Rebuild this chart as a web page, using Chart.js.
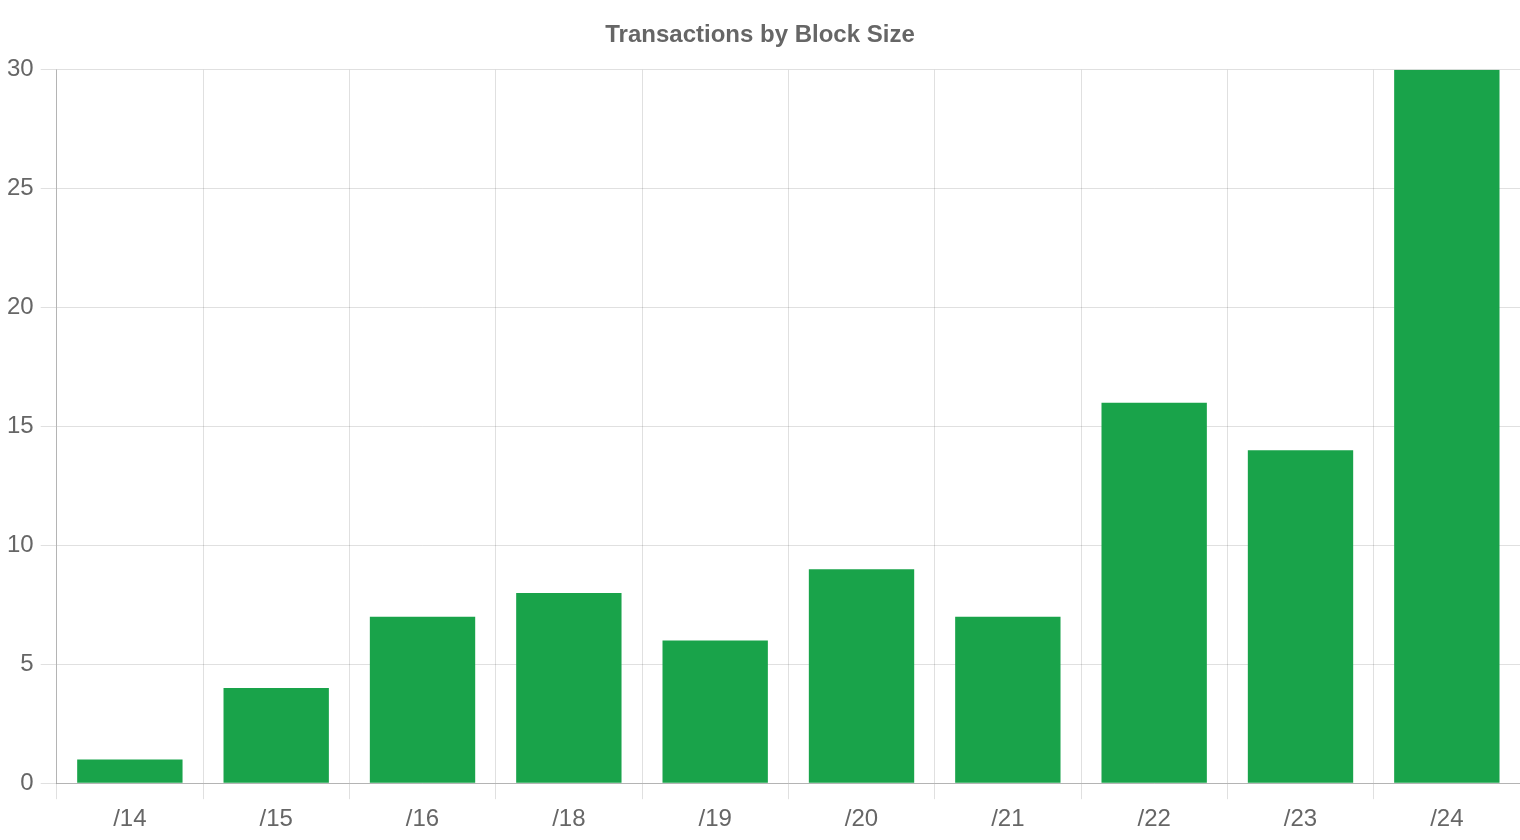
<!DOCTYPE html>
<html>
<head>
<meta charset="utf-8">
<script src="https://cdn.jsdelivr.net/npm/chart.js@4"></script>
<style>
  html, body { margin: 0; padding: 0; background: #fff; }
  #wrap { width: 1520px; height: 840px; }
</style>
</head>
<body>
<div id="wrap"><canvas id="myChart"></canvas></div>
<script>
const bloques = ['/14', '/15', '/16', '/18', '/19', '/20', '/21', '/22', '/23', '/24'];
const transacciones = [1, 4, 7, 8, 6, 9, 7, 16, 14, 30];
const yTicks = [0, 5, 10, 15, 20, 25, 30];

Chart.defaults.font.family = '"Liberation Sans", Arial, sans-serif';
Chart.defaults.color = '#666';

const ctx = document.getElementById('myChart');

new Chart(ctx, {
  type: 'bar',
  data: {
    labels: bloques,
    datasets: [{
      label: 'Transactions',
      data: transacciones,
      backgroundColor: '#19a34a',
      borderWidth: 0
    }]
  },
  options: {
    responsive: true,
    maintainAspectRatio: false,
    animation: false,
    layout: { padding: { left: 0, right: 0, top: 0, bottom: 0 } },
    plugins: {
      legend: { display: false },
      title: {
        display: true,
        text: 'Transactions by Block Size',
        font: { size: 24, weight: 'bold' },
        color: '#666',
        padding: { top: 21, bottom: 20 }
      }
    },
    scales: {
      x: {
        grid: { color: 'rgba(0,0,0,0.12)', tickLength: 16 },
        border: { color: 'rgba(0,0,0,0.2)' },
        ticks: { font: { size: 24 }, padding: 6 }
      },
      y: {
        beginAtZero: true,
        min: yTicks[0],
        max: yTicks[yTicks.length - 1],
        grid: { color: 'rgba(0,0,0,0.12)', tickLength: 16 },
        border: { color: 'rgba(0,0,0,0.2)' },
        ticks: { stepSize: 5, font: { size: 24 }, padding: 7 }
      }
    }
  }
});
</script>
</body>
</html>
